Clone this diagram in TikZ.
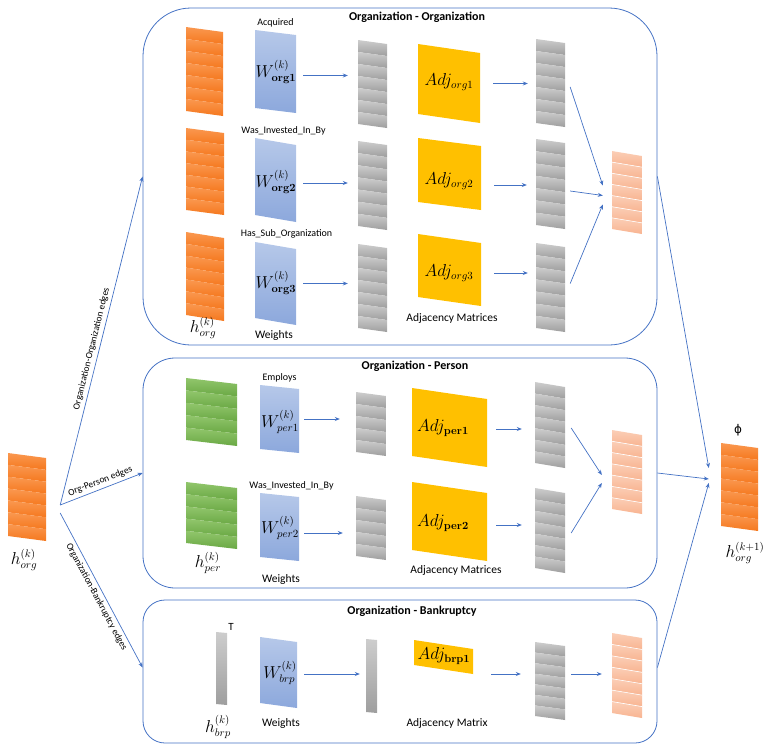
\documentclass[tikz,border=0pt]{standalone}
\usepackage{amsmath}
\usepackage[no-math]{fontspec}
\setmainfont{Carlito}
\newfontfamily\phifont{DejaVu Sans}
\usepackage{tikz}
\usetikzlibrary{arrows.meta,positioning}
\usepackage{xcolor}

\definecolor{edgeblue}{RGB}{68,114,196}
\definecolor{orgdark}{RGB}{245,120,30}
\definecolor{orglight}{RGB}{250,152,80}
\definecolor{grdark}{RGB}{158,158,158}
\definecolor{grlight}{RGB}{205,205,205}
\definecolor{grndark}{RGB}{106,168,68}
\definecolor{grnlight}{RGB}{145,198,108}
\definecolor{wtop}{RGB}{182,200,233}
\definecolor{wbot}{RGB}{140,168,220}
\definecolor{adjy}{RGB}{255,192,0}
\definecolor{sumdark}{RGB}{248,180,145}
\definecolor{sumlight}{RGB}{251,206,182}

% slanted striped slab: name, x, y, width, height, drop, bands, dark, light
\newcommand{\slab}[9]{%
  \foreach \i in {1,...,#7}{%
    \pgfmathsetmacro{\ya}{#3+(\i-1)*#5/#7}
    \pgfmathsetmacro{\yb}{#3+\i*#5/#7}
    \shade[top color=#9,bottom color=#8] (#2,\ya) -- (#2+#4,\ya+#6) -- (#2+#4,\yb+#6) -- (#2,\yb) -- cycle;
  }
  \node[inner sep=0pt,minimum width=#4pt,minimum height={(#5+#6)*1pt}] (#1) at ({#2+#4/2},{#3+(#5+#6)/2}) {};
}
% summed slab with white seams: name, x, y, height
\newcommand{\sumslab}[4]{%
  \slab{#1}{#2}{#3}{30}{#4}{5}{7}{sumdark}{sumlight}
  \foreach \i in {1,...,6}{%
    \pgfmathsetmacro{\ya}{#3+\i*#4/7}
    \draw[white,line width=0.6pt] (#2,\ya) -- (#2+30,\ya+5);
  }
}

\begin{document}
\begin{tikzpicture}[x=1pt,y=-1pt,>={Stealth[length=5pt,width=4pt]},
  arr/.style={->,edgeblue,line width=0.7pt},
  grp/.style={draw=edgeblue,line width=0.8pt,inner sep=0pt,minimum width=514pt},
  ttl/.style={font=\fontsize{12}{14}\selectfont\bfseries},
  rel/.style={font=\fontsize{10}{12}\selectfont,inner sep=1pt},
  capt/.style={font=\fontsize{11.5}{13}\selectfont},
  elbl/.style={font=\fontsize{9.5}{11}\selectfont,text=black,inner sep=3pt},
  mth/.style={font=\fontsize{16}{18}\selectfont,inner sep=0pt}]
\useasboundingbox (0,0) rectangle (772,753);

% relation groups
\node[grp,minimum height=337pt,rounded corners=48pt] (bxoo) at (400,176.5) {};
\node[grp,minimum height=230pt,rounded corners=32pt] (bxop) at (400,473) {};
\node[grp,minimum height=143pt,rounded corners=22pt] (bxob) at (400,671.5) {};
\node[ttl] (tloo) at (417,17) {Organization - Organization};
\node[ttl] (tlop) at (415,366) {Organization - Person};
\node[ttl] (tlob) at (412,611) {Organization - Bankruptcy};

% organization - organization
\slab{ho1}{186}{27}{37}{84}{5}{7}{orgdark}{orglight}
\slab{ho2}{186}{128}{38}{82}{5}{7}{orgdark}{orglight}
\slab{ho3}{186}{232}{38}{83}{6}{7}{orgdark}{orglight}
\slab{wo1}{255}{30}{41}{78}{5}{1}{wbot}{wtop}
\slab{wo2}{255}{138}{41}{77}{7}{1}{wbot}{wtop}
\slab{wo3}{255}{242}{41}{76}{7}{1}{wbot}{wtop}
\slab{ga1}{358}{40}{29}{84}{4}{7}{grdark}{grlight}
\slab{ga2}{358}{141}{29}{85}{4}{7}{grdark}{grlight}
\slab{ga3}{358}{244}{29}{84}{4}{7}{grdark}{grlight}
\slab{ao1}{418}{44}{62}{70}{9}{1}{adjy}{adjy}
\slab{ao2}{418}{138}{63}{64}{8}{1}{adjy}{adjy}
\slab{ao3}{418}{234}{63}{63}{9}{1}{adjy}{adjy}
\slab{gb1}{536}{39}{29}{84}{4}{7}{grdark}{grlight}
\slab{gb2}{536}{139}{29}{86}{4}{7}{grdark}{grlight}
\slab{gb3}{536}{243}{29}{85}{4}{7}{grdark}{grlight}
\sumslab{so}{612}{151}{78}

\node[rel,above=1pt of wo1] (rwo1) {Acquired};
\node[rel,above=1pt of wo2,xshift=8pt] (rwo2) {Was\_Invested\_In\_By};
\node[rel,above=2pt of wo3,xshift=11pt] (rwo3) {Has\_Sub\_Organization};
\node[mth] (lwo1) at (276,72) {$W^{(k)}_{\mathbf{org1}}$};
\node[mth] (lwo2) at (276,182) {$W^{(k)}_{\mathbf{org2}}$};
\node[mth] (lwo3) at (276,283) {$W^{(k)}_{\mathbf{org3}}$};
\node[mth] (lao1) at (449,82) {$Adj_{org1}$};
\node[mth] (lao2) at (449,181) {$Adj_{org2}$};
\node[mth] (lao3) at (449,273) {$Adj_{org3}$};
\node[mth] (lho) at (203,328) {$h^{(k)}_{org}$};
\node[capt] (cwo) at (274,335) {Weights};
\node[capt] (cao) at (452,318) {Adjacency Matrices};

\draw[arr,shorten <=7pt,shorten >=10pt] ([yshift=-4pt]wo1.east) coordinate (t) -- (t -| ga1.west);
\draw[arr,shorten <=13pt,shorten >=8pt] (ao1.east) coordinate (t) -- (t -| gb1.west);
\draw[arr,shorten <=7pt,shorten >=10pt] ([yshift=-3pt]wo2.east) coordinate (t) -- (t -| ga2.west);
\draw[arr,shorten <=13pt,shorten >=9pt] ([yshift=-11pt]ao2.east) coordinate (t) -- (t -| gb2.west);
\draw[arr,shorten <=7pt,shorten >=10pt] (wo3.east) coordinate (t) -- (t -| ga3.west);
\draw[arr,shorten <=13pt,shorten >=8pt] ([yshift=-3pt]ao3.east) coordinate (t) -- (t -| gb3.west);
\draw[arr] ([xshift=5pt,yshift=-4pt]gb1.east) -- ([xshift=-9pt,yshift=7pt]so.west);
\draw[arr] ([xshift=5pt,yshift=-7pt]gb2.east) -- ([xshift=-9pt,yshift=-3pt]so.west);
\draw[arr] ([xshift=5pt,yshift=4pt]gb3.east) -- ([xshift=-9pt,yshift=-12pt]so.west);

% organization - person
\slab{hp1}{186}{378}{51}{62}{6}{5}{grndark}{grnlight}
\slab{hp2}{186}{482}{51}{61}{6}{5}{grndark}{grnlight}
\slab{wp1}{260}{385}{39}{64}{4}{1}{wbot}{wtop}
\slab{wp2}{260}{493}{39}{64}{4}{1}{wbot}{wtop}
\slab{gc1}{356}{392}{30}{60}{4}{5}{grdark}{grlight}
\slab{gc2}{356}{496}{30}{60}{4}{5}{grdark}{grlight}
\slab{ap1}{412}{388}{75}{68}{11}{1}{adjy}{adjy}
\slab{ap2}{412}{482}{75}{68}{11}{1}{adjy}{adjy}
\slab{gd1}{535}{382}{30}{81}{5}{7}{grdark}{grlight}
\slab{gd2}{535}{488}{30}{80}{5}{7}{grdark}{grlight}
\sumslab{sp}{612}{430}{79}

\node[rel,above=1pt of wp1] (rwp1) {Employs};
\node[rel,above=1pt of wp2,xshift=12pt] (rwp2) {Was\_Invested\_In\_By};
\node[mth] (lwp1) at (280,422) {$W^{(k)}_{per1}$};
\node[mth] (lwp2) at (280,528) {$W^{(k)}_{per2}$};
\node[mth] (lap1) at (443,428) {$Adj_{\mathbf{per1}}$};
\node[mth] (lap2) at (443,523) {$Adj_{\mathbf{per2}}$};
\node[mth] (lhp) at (208,563) {$h^{(k)}_{per}$};
\node[capt] (cwp) at (281,579) {Weights};
\node[capt] (cap2) at (456,570) {Adjacency Matrices};

\draw[arr,shorten <=5pt,shorten >=16pt] (wp1.east) coordinate (t) -- (t -| gc1.west);
\draw[arr,shorten <=9pt,shorten >=13pt] ([yshift=-1.5pt]ap1.east) coordinate (t) -- (t -| gd1.west);
\draw[arr,shorten <=5pt,shorten >=13pt] ([yshift=-6pt]wp2.east) coordinate (t) -- (t -| gc2.west);
\draw[arr,shorten <=9pt,shorten >=13pt] ([yshift=-3.5pt]ap2.east) coordinate (t) -- (t -| gd2.west);
\draw[arr] ([xshift=6pt,yshift=-3pt]gd1.east) -- ([xshift=-10pt,yshift=-3pt]sp.west);
\draw[arr] ([xshift=6pt,yshift=-2.5pt]gd2.east) -- ([xshift=-10pt,yshift=-11pt]sp.west);

% organization - bankruptcy
\slab{hb}{216}{632}{11}{72}{1}{1}{grdark}{grlight}
\slab{wb}{260}{637}{37}{66}{5}{1}{wbot}{wtop}
\slab{ge}{366}{639}{11}{73}{1}{1}{grdark}{grlight}
\slab{ab}{414}{640}{59}{25}{9}{1}{adjy}{adjy}
\slab{gf}{535}{642}{30}{74}{4}{7}{grdark}{grlight}
\sumslab{sb}{612}{633}{80}

\node[font=\fontsize{11}{13}\selectfont,inner sep=0pt] (ttr) at (231,627) {T};
\node[mth] (lwb) at (280,673) {$W^{(k)}_{brp}$};
\node[mth] (lab) at (444,656) {$Adj_{\mathbf{brp1}}$};
\node[mth] (lhb) at (218,727) {$h^{(k)}_{brp}$};
\node[capt] (cwb) at (281,723) {Weights};
\node[capt] (cab) at (447,723) {Adjacency Matrix};

\draw[arr,shorten <=7pt,shorten >=6pt] ([yshift=-1.5pt]wb.east) coordinate (t) -- (t -| ge.west);
\draw[arr,shorten <=18pt,shorten >=14pt] ([yshift=-17pt]ab.east) coordinate (t) -- (t -| gf.west);
\draw[arr,shorten <=6pt,shorten >=10pt] ([yshift=7pt]gf.east) coordinate (t) -- (t -| sb.west);

% input and output
\slab{hin}{8}{453}{38}{83}{5}{7}{orgdark}{orglight}
\slab{hout}{721}{443}{37}{83}{5}{7}{orgdark}{orglight}
\node[mth] (lhin) at (24,560) {$h^{(k)}_{org}$};
\node[mth] (lhout) at (745,553) {$h^{(k+1)}_{org}$};
\node[font=\phifont\fontsize{12}{14}\selectfont,inner sep=0pt] (phi) at (738,430) {ϕ};

\draw[arr] ([xshift=14pt,yshift=-8pt]hin.east) -- node[elbl,above,sloped,pos=0.47] {Organization-Organization edges} (bxoo.west);
\draw[arr] ([xshift=14pt,yshift=-8pt]hin.east) -- node[elbl,above,sloped,pos=0.52] {Org-Person edges} (bxop.west);
\draw[arr] ([xshift=14pt,yshift=-16pt]hin.east) -- node[elbl,below,sloped,pos=0.52] {Organization-Bankruptcy edges} ([yshift=4pt]bxob.west);
\draw[arr] (bxoo.east) -- ([xshift=-12pt,yshift=19pt]hout.west);
\draw[arr] (bxop.east) -- ([xshift=-12pt,yshift=8pt]hout.west);
\draw[arr] ([yshift=4pt]bxob.east) -- ([xshift=-12pt,yshift=4pt]hout.west);
\end{tikzpicture}
\end{document}
